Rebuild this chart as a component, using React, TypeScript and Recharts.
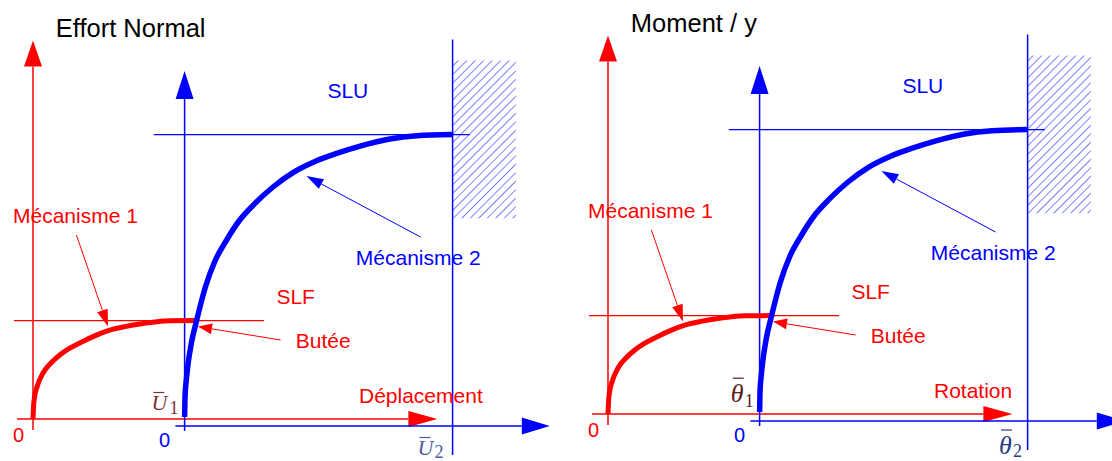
import React from 'react';
import {
  LineChart,
  Line,
  XAxis,
  YAxis,
  ReferenceLine,
  ReferenceArea,
  ReferenceDot,
} from 'recharts';

const RED = '#ff0000';
const BLUE = '#0000ff';
const SANS = "'Liberation Sans', Arial, sans-serif";
const SERIF = "'Liberation Serif', 'DejaVu Serif', serif";

// mécanisme 1 (rouge) : déplacement -> effort
const mech1X = [0, 0.01, 0.04, 0.1, 0.25, 0.45, 0.67, 0.9, 1.17, 1.5, 1.92, 2.3, 2.67, 3.05, 3.42, 4.05];
const mech1Y = [0, 0.25, 0.56, 0.8, 1.15, 1.4, 1.6, 1.76, 1.9, 2.06, 2.22, 2.31, 2.375, 2.425, 2.455, 2.46];

// mécanisme 2 (bleu), démarre à U1
const mech2X = [3.79, 3.8, 3.83, 3.88, 3.96, 4.09, 4.31, 4.55, 4.84, 5.15, 5.55, 6.0, 6.53, 7.05, 7.59, 8.2, 8.92, 9.6, 10.49];
const mech2Y = [0.05, 0.55, 0.95, 1.4, 1.9, 2.46, 3.3, 3.95, 4.475, 4.95, 5.39, 5.8, 6.18, 6.44, 6.64, 6.83, 7.0, 7.08, 7.11];

// niveaux / bornes
const slf = 2.46;
const slu = 7.11;
const u1 = 3.79;
const u2 = 10.49;
const blueBase = -0.175;

// annotations (texte, ancrage x, ancrage y)
const labelText = ['SLU', 'Mécanisme 1', 'Mécanisme 2', 'SLF', 'Butée'];
const labelX = [7.36, -0.5, 8.07, 6.085, 6.57];
const labelY = [8.03, 4.91, 3.85, 2.875, 1.77];
const labelColor = [BLUE, RED, BLUE, RED, RED];

// flèches d'annotation [x1, y1, x2, y2]
const arrowSegs = [
  [1.085, 4.6, 1.875, 2.31],
  [6.19, 1.975, 4.125, 2.31],
  [9.69, 4.55, 6.835, 6.075],
];
const arrowColor = [RED, RED, BLUE];

const mech1 = mech1X.map((x, i) => ({ x, y: mech1Y[i] }));
const mech2 = mech2X.map((x, i) => ({ x, y: mech2Y[i] }));

const arrowShape =
  (color: string, width: number, headLen: number, headW: number) => (p: any) => {
    const { x1, y1, x2, y2 } = p;
    if (![x1, y1, x2, y2].every((v) => Number.isFinite(v))) return <g />;
    const a = Math.atan2(y2 - y1, x2 - x1);
    const bx = x2 - headLen * Math.cos(a);
    const by = y2 - headLen * Math.sin(a);
    const nx = (-Math.sin(a) * headW) / 2;
    const ny = (Math.cos(a) * headW) / 2;
    return (
      <g>
        <line x1={x1} y1={y1} x2={headLen ? bx : x2} y2={headLen ? by : y2} stroke={color} strokeWidth={width} />
        {headLen > 0 && (
          <polygon points={`${x2},${y2} ${bx + nx},${by + ny} ${bx - nx},${by - ny}`} fill={color} />
        )}
      </g>
    );
  };

const textShape =
  (text: string, color: string, size: number, anchor: string = 'start') => (p: any) => (
    <text x={p.cx} y={p.cy} fill={color} fontSize={size} fontFamily={SANS} textAnchor={anchor as any}>
      {text}
    </text>
  );

const mathShape =
  (sym: string, sub: string, color: string, size: number, barUp: number, subDx: number, subDy: number) =>
  (p: any) => (
    <g fill={color}>
      <text x={p.cx} y={p.cy} fontSize={size} fontFamily={SERIF} fontStyle="italic">
        {sym}
      </text>
      <line x1={p.cx + 2} y1={p.cy - barUp} x2={p.cx + 13} y2={p.cy - barUp} stroke={color} strokeWidth={1.2} />
      <text x={p.cx + subDx} y={p.cy + subDy} fontSize={18} fontFamily={SERIF}>
        {sub}
      </text>
    </g>
  );

type PanelProps = {
  id: string;
  title: string;
  axisName: string;
  sym: string;
  symSize: number;
  barUp: number;
  sub1: [number, number, number, number];
  sub2: [number, number, number, number];
  color1: string;
  color2: string;
  left: number;
  top: number;
};

function Panel(props: PanelProps) {
  const { id, title, axisName, sym, symSize, barUp, sub1, sub2, color1, color2, left, top } = props;
  return (
    <div style={{ position: 'absolute', left, top }}>
      <LineChart width={580} height={470} margin={{ top: 0, right: 0, bottom: 0, left: 0 }}>
        <defs>
          <pattern id={id} width={6} height={6} patternUnits="userSpaceOnUse" patternTransform="rotate(45)">
            <line x1={0} y1={0} x2={0} y2={6} stroke={BLUE} strokeWidth={1} />
          </pattern>
        </defs>
        <XAxis type="number" dataKey="x" domain={[-1, 13.5]} allowDataOverflow hide />
        <YAxis type="number" domain={[-1.25, 10.5]} allowDataOverflow hide />

        <ReferenceArea x1={u2} x2={12.07} y1={5.02} y2={8.96} fill={`url(#${id})`} fillOpacity={1} stroke="none" />

        {/* axes rouges */}
        <ReferenceLine segment={[{ x: 0, y: -0.275 }, { x: 0, y: 9.46 }]} shape={arrowShape(RED, 1.5, 26, 18)} />
        <ReferenceLine segment={[{ x: -0.4, y: 0 }, { x: 10.11, y: 0 }]} shape={arrowShape(RED, 1.5, 29, 16)} />
        <ReferenceLine segment={[{ x: -0.475, y: slf }, { x: 5.775, y: slf }]} shape={arrowShape(RED, 1.2, 0, 0)} />

        {/* axes bleus */}
        <ReferenceLine segment={[{ x: u1, y: -0.3 }, { x: u1, y: 8.7 }]} shape={arrowShape(BLUE, 1.5, 28, 18)} />
        <ReferenceLine segment={[{ x: 3.56, y: blueBase }, { x: 12.92, y: blueBase }]} shape={arrowShape(BLUE, 1.5, 28, 17)} />
        <ReferenceLine segment={[{ x: u2, y: -0.9 }, { x: u2, y: 9.49 }]} shape={arrowShape(BLUE, 1.5, 0, 0)} />
        <ReferenceLine segment={[{ x: 3.02, y: slu }, { x: 10.92, y: slu }]} shape={arrowShape(BLUE, 1.2, 0, 0)} />

        {arrowSegs.map((s, i) => (
          <ReferenceLine
            key={`a${i}`}
            segment={[{ x: s[0], y: s[1] }, { x: s[2], y: s[3] }]}
            shape={arrowShape(arrowColor[i], 1, i === 1 ? 14 : 17, 11)}
          />
        ))}

        <Line
          data={mech1}
          dataKey="y"
          type="monotone"
          stroke={RED}
          strokeWidth={5}
          dot={false}
          activeDot={false}
          isAnimationActive={false}
        />
        <Line
          data={mech2}
          dataKey="y"
          type="monotone"
          stroke={BLUE}
          strokeWidth={5.5}
          dot={false}
          activeDot={false}
          isAnimationActive={false}
        />

        {labelText.map((t, i) => (
          <ReferenceDot key={`l${i}`} x={labelX[i]} y={labelY[i]} r={0} shape={textShape(t, labelColor[i], 21)} />
        ))}
        <ReferenceDot x={0.57} y={9.56} r={0} shape={textShape(title, '#000', 25.5)} />
        <ReferenceDot x={8.15} y={0.41} r={0} shape={textShape(axisName, RED, 21)} />
        <ReferenceDot x={-0.36} y={-0.58} r={0} shape={textShape('0', RED, 20, 'middle')} />
        <ReferenceDot x={3.29} y={-0.71} r={0} shape={textShape('0', BLUE, 20, 'middle')} />

        <ReferenceDot x={sub1[0]} y={sub1[1]} r={0} shape={mathShape(sym, '1', color1, symSize, barUp, sub1[2], sub1[3])} />
        <ReferenceDot x={sub2[0]} y={sub2[1]} r={0} shape={mathShape(sym, '2', color2, symSize, barUp, sub2[2], sub2[3])} />
      </LineChart>
    </div>
  );
}

export default function App() {
  return (
    <div style={{ position: 'absolute', left: 0, top: 0, width: 1112, height: 461, overflow: 'hidden', background: '#fff' }}>
      <Panel
        id="hatchN"
        title="Effort Normal"
        axisName="Déplacement"
        sym="U"
        symSize={22}
        barUp={17.5}
        sub1={[2.96, 0.225, 18, 4]}
        sub2={[9.61, -0.9, 17, 3]}
        color1="#803030"
        color2="#4a5a9e"
        left={-6.7}
        top={-1}
      />
      <Panel
        id="hatchM"
        title="Moment / y"
        axisName="Rotation"
        sym="θ"
        symSize={26}
        barUp={24}
        sub1={[3.07, 0.295, 14, 5]}
        sub2={[9.775, -1.0, 14, 3]}
        color1="#5a2020"
        color2="#2a3a86"
        left={568.3}
        top={-6.5}
      />
    </div>
  );
}
